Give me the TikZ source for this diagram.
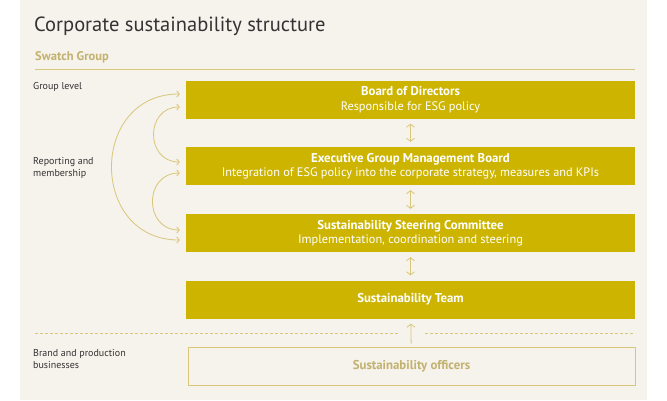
\documentclass[tikz,border=0pt]{standalone}
\usepackage{fontspec}
\setmainfont{PT Sans}
\usetikzlibrary{arrows.meta}
\definecolor{swgold}{HTML}{CCB400}
\definecolor{swlight}{HTML}{D8C67A}
\definecolor{swbg}{HTML}{F6F2EC}
\definecolor{swtext}{HTML}{333333}
\newcommand{\boxhead}[1]{{\fontsize{12.8}{14}\selectfont\bfseries #1}}
\begin{document}
\begin{tikzpicture}[x=1pt,y=-1pt,
    box/.style={fill=swgold, minimum width=449pt, minimum height=38pt, inner sep=0pt, text=white, align=center, font=\fontsize{12.3}{14.5}\selectfont},
    sidetext/.style={anchor=west, inner sep=0pt, align=left, text=swtext, font=\fontsize{10}{12.5}\selectfont},
    link/.style={draw=swlight, line width=0.8pt, {Straight Barb[length=3pt,width=8pt]}-{Straight Barb[length=3pt,width=8pt]}, shorten >=5pt, shorten <=5pt},
    loop/.style={draw=swlight, line width=0.8pt, {Straight Barb[length=2.5pt,width=6pt]}-{Straight Barb[length=2.5pt,width=6pt]}, shorten >=6pt, shorten <=6pt, out=180, in=180}]
    \useasboundingbox (0,0) rectangle (667,400);
    \fill[swbg] (20,0) rectangle (647,400);

    \node[anchor=west, inner sep=0pt, text=swtext, font=\fontsize{20.5}{24}\selectfont] (title) at (34,26) {Corporate sustainability structure};
    \node[anchor=west, inner sep=0pt, text=swlight!90!black, font=\fontsize{12.5}{15}\selectfont\bfseries] (group) at (35,57) {Swatch Group};
    \draw[swlight, line width=0.8pt] (35,69) -- (635,69);

    \node[sidetext] (lv1) at (33,87) {Group level};
    \node[sidetext] (lv2) at (33,168) {Reporting and\\membership};
    \node[sidetext] (lv3) at (33,359) {Brand and production\\businesses};

    \node[box] (bod) at (410.5,99.5) {\boxhead{Board of Directors}\\Responsible for ESG policy};
    \node[box] (egmb) at (410.5,166) {\boxhead{Executive Group Management Board}\\Integration of ESG policy into the corporate strategy, measures and KPIs};
    \node[box] (ssc) at (410.5,233) {\boxhead{Sustainability Steering Committee}\\Implementation, coordination and steering};
    \node[box] (team) at (410.5,299.5) {\boxhead{Sustainability Team}};
    \node[box, fill=none, draw=swlight, line width=0.8pt, minimum width=447pt, text=swlight!90!black] (off) at (411.5,366) {\boxhead{Sustainability officers}};

    \draw[swlight, line width=0.6pt, dash pattern=on 3pt off 2pt] (35,333) -- (398,333) (425,333) -- (635,333);

    \path (bod) edge[link] (egmb)
          (egmb) edge[link] (ssc)
          (ssc) edge[link] (team);
    \path (off) edge[link, {-Straight Barb[length=3pt,width=8pt]}, shorten <=3pt, shorten >=5pt] (team);

    \path ([yshift=5.5pt]bod.west) edge[loop, looseness=1.7] ([yshift=-7pt]ssc.west)
          ([yshift=-7.5pt]bod.west) edge[loop, looseness=1.9] ([yshift=4pt]egmb.west)
          ([yshift=-7pt]egmb.west) edge[loop, looseness=1.9] ([yshift=3pt]ssc.west);
\end{tikzpicture}
\end{document}
